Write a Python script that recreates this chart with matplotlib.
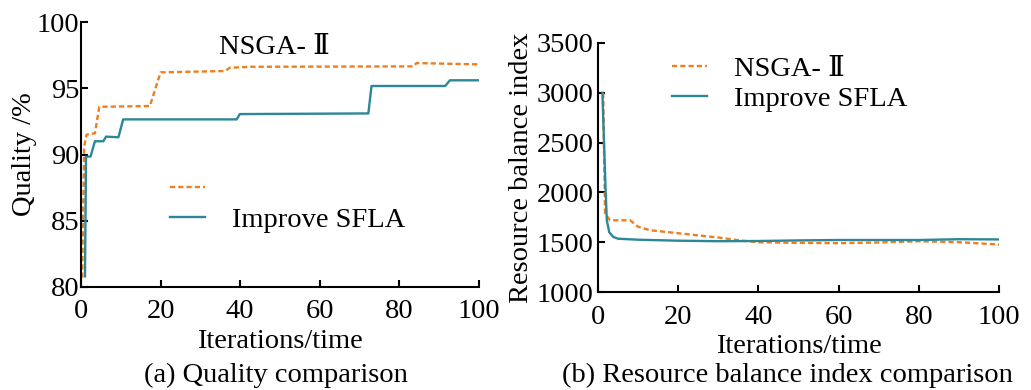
import matplotlib
matplotlib.use("Agg")
import matplotlib.pyplot as plt
from matplotlib.lines import Line2D

plt.rcParams['font.family'] = ['Liberation Serif', 'DejaVu Serif']
plt.rcParams['mathtext.fontset'] = 'stix'

ORANGE = '#F07D1E'
TEAL = '#2B8799'

# (a) Quality comparison
q_nsga_x = [0.3, 0.8, 1.4, 3.5, 4.6, 17.3, 20.0, 36.2, 37.4, 43, 83.5, 84.3, 100]
q_nsga_y = [80.7, 90.6, 91.5, 91.6, 93.6, 93.66, 96.2, 96.3, 96.55, 96.62, 96.65, 96.9, 96.8]
q_sfla_x = [1.0, 1.26, 2.4, 3.5, 5.6, 6.3, 9.4, 10.6, 39.1, 39.9, 72.2, 73.0, 91.5, 92.7, 100]
q_sfla_y = [80.8, 89.83, 89.85, 91.0, 91.0, 91.35, 91.3, 92.65, 92.65, 93.05, 93.1, 95.17, 95.17, 95.6, 95.6]

# (b) Resource balance index comparison
r_nsga_x = [1.3, 1.75, 3, 8, 10, 13, 20, 23, 30, 36, 40, 50, 60, 70, 80, 90, 100]
r_nsga_y = [3000, 1790, 1720, 1720, 1655, 1620, 1590, 1577, 1547, 1515, 1500, 1493, 1490, 1497, 1510, 1500, 1477]
r_sfla_x = [1.1, 1.5, 1.9, 2.2, 2.8, 3.8, 5, 10, 20, 30, 40, 50, 60, 70, 80, 90, 100]
r_sfla_y = [3000, 2500, 2020, 1720, 1600, 1553, 1535, 1525, 1515, 1510, 1512, 1518, 1522, 1522, 1522, 1530, 1528]

labels = ['NSGA- Ⅱ', 'Improve SFLA']
xticks = [0, 20, 40, 60, 80, 100]
q_yticks = [80, 85, 90, 95, 100]
r_yticks = [1000, 1500, 2000, 2500, 3000, 3500]

FS = 20.5
W, H = 1031, 390
fig = plt.figure(figsize=(W / 100, H / 100), dpi=100)

def px_axes(l, r, t, b):
    return fig.add_axes([l / W, 1 - b / H, (r - l) / W, (b - t) / H])

ax1 = px_axes(81, 479, 22, 287)
ax2 = px_axes(598, 999, 43, 292)

dash = (0, (2.2, 1.3))
for ax in (ax1, ax2):
    for s in ('top', 'right'):
        ax.spines[s].set_visible(False)
    for s in ('left', 'bottom'):
        ax.spines[s].set_linewidth(1.5)
    ax.tick_params(direction='in', length=5, width=1.5, labelsize=FS)
    ax.set_xlim(0, 100)
    ax.set_xticks(xticks)

ax1.tick_params(axis='y', pad=1)
ax1.tick_params(axis='x', pad=9)
ax2.tick_params(axis='y', pad=3)
ax2.tick_params(axis='x', pad=9)

# Left
ax1.plot(q_nsga_x, q_nsga_y, color=ORANGE, lw=1.7, linestyle=dash)
ax1.plot(q_sfla_x, q_sfla_y, color=TEAL, lw=1.7)
ax1.set_ylim(80, 100)
ax1.set_yticks(q_yticks)
ax1.set_xlabel('Iterations/time', fontsize=FS, labelpad=3)
ax1.set_ylabel('Quality /%', fontsize=FS, labelpad=0)
h1 = [Line2D([], [], color=ORANGE, lw=1.7, linestyle=dash),
      Line2D([], [], color=TEAL, lw=1.7)]
ax1.legend(h1, [' ', labels[1]], loc='center left', frameon=False, fontsize=FS,
           bbox_to_anchor=(144 / W, 1 - 205 / H), bbox_transform=fig.transFigure,
           handlelength=1.25, handletextpad=0.95, labelspacing=0.15)
fig.text(274 / W, 1 - 48 / H, labels[0], fontsize=FS, ha='center', va='center')

# Right
ax2.plot(r_nsga_x, r_nsga_y, color=ORANGE, lw=1.7, linestyle=dash)
ax2.plot(r_sfla_x, r_sfla_y, color=TEAL, lw=1.7)
ax2.set_ylim(1000, 3500)
ax2.set_yticks(r_yticks)
ax2.set_xlabel('Iterations/time', fontsize=FS, labelpad=3)
ax2.set_ylabel('Resource balance index', fontsize=FS, labelpad=2)
h2 = [Line2D([], [], color=ORANGE, lw=1.7, linestyle=dash),
      Line2D([], [], color=TEAL, lw=1.7)]
ax2.legend(h2, labels, loc='center left', frameon=False, fontsize=FS,
           bbox_to_anchor=(646 / W, 1 - 84 / H), bbox_transform=fig.transFigure,
           handlelength=1.25, handletextpad=0.95, labelspacing=0.15)

fig.text(276 / W, 1 - 375 / H, '(a) Quality comparison', fontsize=FS, ha='center', va='center')
fig.text(787 / W, 1 - 375 / H, '(b) Resource balance index comparison', fontsize=FS, ha='center', va='center')

fig.savefig('out.png', dpi=100)
